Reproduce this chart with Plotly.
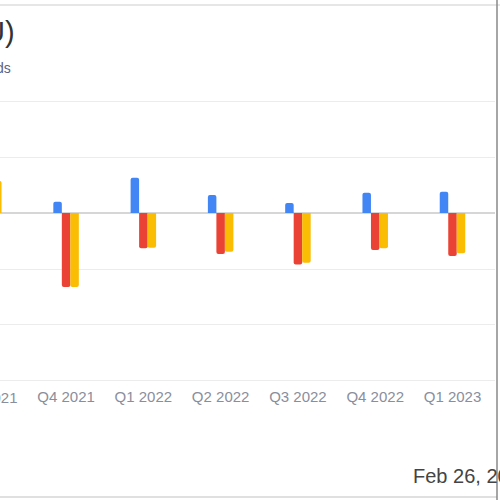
import plotly.graph_objects as go

# quarters shown in the (cropped) card
quarters = ["Q3 2021", "Q4 2021", "Q1 2022", "Q2 2022", "Q3 2022", "Q4 2022", "Q1 2023"]

# per-share values (gridline step = 0.1)
blue_vals = [0.04, 0.02, 0.063, 0.032, 0.018, 0.036, 0.038]
red_vals = [0.06, -0.132, -0.063, -0.073, -0.092, -0.066, -0.077]
yellow_vals = [0.057, -0.132, -0.062, -0.069, -0.089, -0.063, -0.072]

series_names = ["Estimate", "Actual", "Adjusted"]

BLUE = "#4285F4"
RED = "#EA4335"
YELLOW = "#FBBC04"

# plot area in page pixels
PL, PR, PT, PB = 0, 495, 99, 383
PW, PH = PR - PL, PB - PT


def px_x(p):
    return (p - PL) / PW


def px_y(p):
    return (PB - p) / PH


fig = go.Figure()
for name, vals, col in zip(series_names, [blue_vals, red_vals, yellow_vals], [BLUE, RED, YELLOW]):
    fig.add_trace(
        go.Bar(
            x=quarters,
            y=vals,
            name=name,
            marker=dict(color=col, line=dict(width=0), cornerradius=2),
            hoverinfo="x+y+name",
        )
    )

fig.update_layout(
    width=500,
    height=500,
    margin=dict(l=PL, r=500 - PR, t=PT, b=500 - PB),
    paper_bgcolor="white",
    plot_bgcolor="white",
    barmode="group",
    bargap=0.67,
    bargroupgap=0,
    showlegend=False,
    font=dict(family="Liberation Sans, Arial, sans-serif", color="#666"),
    xaxis=dict(
        range=[0.145, 6.55],
        showgrid=False,
        showline=False,
        ticks="",
        ticklabelstandoff=3,
        tickfont=dict(size=15, color="#8a8e9c"),
        fixedrange=True,
    ),
    yaxis=dict(
        range=[-0.3036, 0.2036],
        dtick=0.1,
        tick0=0,
        showgrid=True,
        gridcolor="#ececec",
        gridwidth=1,
        zeroline=True,
        zerolinecolor="#d6d6d6",
        zerolinewidth=2,
        showticklabels=False,
        fixedrange=True,
    ),
    annotations=[
        dict(
            text="Unity Software Inc (U)",
            xref="paper", yref="paper",
            x=px_x(17), y=px_y(32),
            xanchor="right", yanchor="middle",
            showarrow=False,
            font=dict(size=29, color="#333333"),
        ),
        dict(
            text="Earnings Per Share Trends",
            xref="paper", yref="paper",
            x=px_x(13), y=px_y(68),
            xanchor="right", yanchor="middle",
            showarrow=False,
            font=dict(size=14, color="#5b5f86"),
        ),
        # first quarter label, cut by the left edge
        dict(
            text=quarters[0],
            xref="paper", yref="paper",
            x=px_x(-11.5), y=px_y(397),
            xanchor="center", yanchor="middle",
            showarrow=False,
            font=dict(size=15, color="#8a8e9c"),
        ),
        dict(
            text="Feb 26, 2024",
            xref="paper", yref="paper",
            x=px_x(411), y=px_y(476),
            xanchor="left", yanchor="middle",
            showarrow=False,
            font=dict(size=20, color="#444444"),
        ),
    ],
    shapes=[
        # card border lines
        dict(type="line", xref="paper", yref="paper",
             x0=px_x(-5), x1=px_x(505), y0=px_y(5), y1=px_y(5),
             line=dict(color="#e6e6e6", width=2)),
        dict(type="line", xref="paper", yref="paper",
             x0=px_x(-5), x1=px_x(497), y0=px_y(497), y1=px_y(497),
             line=dict(color="#e0e0e0", width=2)),
        dict(type="line", xref="paper", yref="paper",
             x0=px_x(497), x1=px_x(497), y0=px_y(500), y1=px_y(0),
             line=dict(color="#888888", width=1.5)),
    ],
)

fig.write_html(
    "out.html",
    config={"displayModeBar": False},
    post_script="document.body.style.margin='0';",
)
